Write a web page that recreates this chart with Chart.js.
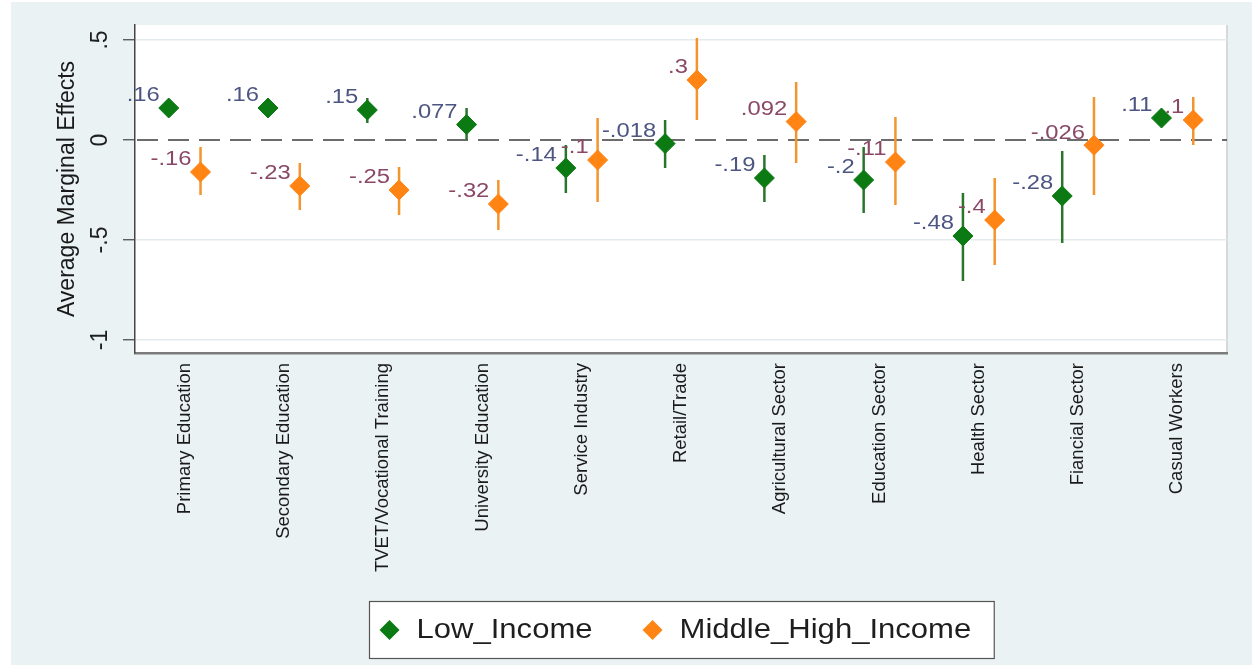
<!DOCTYPE html>
<html>
<head>
<meta charset="utf-8">
<script src="https://cdn.jsdelivr.net/npm/chart.js@4.4.1/dist/chart.umd.min.js"></script>
<style>
  html, body { margin: 0; padding: 0; background: #ffffff; }
  #wrap { width: 1252px; height: 665px; position: relative; }
  canvas { display: block; }
</style>
</head>
<body>
<div id="wrap"><canvas id="c" width="1252" height="665"></canvas></div>
<script>
// Average marginal effects by category, with 95% confidence bounds
const categories = [
  'Primary Education', 'Secondary Education', 'TVET/Vocational Training',
  'University Education', 'Service Industry', 'Retail/Trade',
  'Agricultural Sector', 'Education Sector', 'Health Sector',
  'Fiancial Sector', 'Casual Workers'
];
const lowIncome      = [0.16, 0.16, 0.15, 0.077, -0.14, -0.018, -0.19, -0.2, -0.48, -0.28, 0.11];
const lowIncomeLower = [0.12, 0.12, 0.085, 0.0, -0.265, -0.14, -0.31, -0.365, -0.705, -0.515, 0.08];
const lowIncomeUpper = [0.20, 0.20, 0.21, 0.16, -0.025, 0.10, -0.075, -0.035, -0.265, -0.055, 0.14];
const midHighIncome      = [-0.16, -0.23, -0.25, -0.32, -0.1, 0.3, 0.092, -0.11, -0.4, -0.026, 0.1];
const midHighIncomeLower = [-0.275, -0.35, -0.375, -0.45, -0.31, 0.10, -0.115, -0.325, -0.625, -0.275, -0.025];
const midHighIncomeUpper = [-0.035, -0.115, -0.135, -0.2, 0.11, 0.51, 0.29, 0.115, -0.19, 0.215, 0.215];
const yTickValues = [-1, -0.5, 0, 0.5];
const yTickLabels = ['-1', '-.5', '0', '.5'];
const seriesNames = ['Low_Income', 'Middle_High_Income'];

const FONT = "'Liberation Sans', Arial, Helvetica, sans-serif";
const BG = '#eaf2f3';
const GREEN = '#0b7a12';
const ORANGE = '#ff8414';

// Stata-style number format: drop the leading zero
function fmt(v) {
  return String(v).replace(/^(-?)0\./, '$1.');
}

function series(values, shift) {
  return values.map((v, i) => ({ x: i + shift, y: v }));
}

const decor = {
  id: 'decor',
  beforeDraw(chart) {
    const { ctx, chartArea: a } = chart;
    ctx.save();
    ctx.fillStyle = BG;
    ctx.fillRect(11, 2, chart.width - 11, chart.height - 2);
    ctx.fillStyle = '#ffffff';
    ctx.fillRect(a.left, a.top, a.right - a.left, a.bottom - a.top);
    ctx.strokeStyle = '#d4dadc';
    ctx.lineWidth = 2;
    ctx.beginPath();
    ctx.moveTo(a.right, a.top);
    ctx.lineTo(a.right, a.bottom);
    ctx.stroke();
    ctx.restore();
  },
  beforeDatasetsDraw(chart) {
    const { ctx, chartArea: a, scales: { x, y } } = chart;
    ctx.save();
    // reference line at zero
    const y0 = y.getPixelForValue(0);
    ctx.strokeStyle = '#3c3c3c';
    ctx.lineWidth = 1.5;
    ctx.setLineDash([21, 10]);
    ctx.beginPath();
    ctx.moveTo(a.left + 2, y0);
    ctx.lineTo(a.right, y0);
    ctx.stroke();
    ctx.setLineDash([]);

    chart.data.datasets.forEach(ds => {
      // value labels, upper-left of each marker
      ctx.fillStyle = ds.labelColor;
      ctx.font = '19.5px ' + FONT;
      ctx.textAlign = 'right';
      ctx.textBaseline = 'middle';
      ds.data.forEach(p => {
        const px = x.getPixelForValue(p.x);
        const py = y.getPixelForValue(p.y);
        ctx.save();
        ctx.translate(px - 9, py - 12);
        ctx.scale(1.22, 1);
        ctx.fillText(fmt(p.y), 0, 0);
        ctx.restore();
      });
      // confidence interval spikes
      ctx.strokeStyle = ds.ciColor;
      ctx.lineWidth = 2.5;
      ds.data.forEach((p, i) => {
        const px = x.getPixelForValue(p.x);
        ctx.beginPath();
        ctx.moveTo(px, y.getPixelForValue(ds.lower[i]));
        ctx.lineTo(px, y.getPixelForValue(ds.upper[i]));
        ctx.stroke();
      });
    });
    ctx.restore();
  },
  afterDraw(chart) {
    const { ctx, chartArea: a, scales: { y } } = chart;
    ctx.save();
    // rotated y tick labels
    ctx.fillStyle = '#1e1e1e';
    ctx.font = '23px ' + FONT;
    ctx.textAlign = 'center';
    ctx.textBaseline = 'middle';
    yTickValues.forEach((v, i) => {
      ctx.save();
      ctx.translate(101, y.getPixelForValue(v));
      ctx.rotate(-Math.PI / 2);
      ctx.fillText(yTickLabels[i], 0, 0);
      ctx.restore();
    });

    // legend box
    const sx = 1.15;
    ctx.font = '27px ' + FONT;
    const widths = chart.data.datasets.map(ds => ctx.measureText(ds.label).width * sx);
    const r = 10;
    const boxW = 10 + 2 * r + 17 + widths[0] + 50 + 2 * r + 17 + widths[1] + 23;
    const boxL = Math.round((a.left + a.right) / 2 - boxW / 2) + 0.5;
    const boxT = a.bottom + 248.5;
    const boxH = 57;
    ctx.fillStyle = '#ffffff';
    ctx.fillRect(boxL, boxT, boxW, boxH);
    ctx.strokeStyle = '#555';
    ctx.lineWidth = 1.2;
    ctx.strokeRect(boxL, boxT, boxW, boxH);
    const cy = boxT + boxH / 2;
    let cx = boxL + 10;
    chart.data.datasets.forEach((ds, i) => {
      ctx.fillStyle = ds.backgroundColor;
      ctx.beginPath();
      ctx.moveTo(cx, cy);
      ctx.lineTo(cx + r, cy - r);
      ctx.lineTo(cx + 2 * r, cy);
      ctx.lineTo(cx + r, cy + r);
      ctx.closePath();
      ctx.fill();
      cx += 2 * r + 17;
      ctx.save();
      ctx.translate(cx, cy + 1);
      ctx.scale(sx, 1);
      ctx.fillStyle = '#1e1e1e';
      ctx.textAlign = 'left';
      ctx.textBaseline = 'middle';
      ctx.fillText(ds.label, 0, 0);
      ctx.restore();
      cx += widths[i] + 50;
    });
    ctx.restore();
  }
};

new Chart(document.getElementById('c'), {
  type: 'scatter',
  data: {
    datasets: [
      {
        label: seriesNames[0],
        data: series(lowIncome, -0.16),
        lower: lowIncomeLower,
        upper: lowIncomeUpper,
        pointStyle: 'rectRot',
        pointRadius: 10,
        pointHoverRadius: 10,
        borderWidth: 1,
        backgroundColor: GREEN,
        borderColor: GREEN,
        ciColor: '#2a752c',
        labelColor: '#4d5682'
      },
      {
        label: seriesNames[1],
        data: series(midHighIncome, 0.16),
        lower: midHighIncomeLower,
        upper: midHighIncomeUpper,
        pointStyle: 'rectRot',
        pointRadius: 10,
        pointHoverRadius: 10,
        borderWidth: 1,
        backgroundColor: ORANGE,
        borderColor: ORANGE,
        ciColor: '#f3952e',
        labelColor: '#8a4866'
      }
    ]
  },
  options: {
    responsive: false,
    animation: false,
    events: [],
    layout: { padding: { left: 0, right: 25, top: 25, bottom: 0 } },
    plugins: {
      legend: { display: false },
      tooltip: { enabled: false }
    },
    scales: {
      x: {
        type: 'linear',
        min: -0.5,
        max: 10.5,
        afterBuildTicks: s => { s.ticks = categories.map((c, i) => ({ value: i })); },
        afterFit: s => { s.height = 312; },
        grid: { display: false, drawTicks: false },
        border: { display: true, color: '#7c7c7c', width: 2.5 },
        ticks: {
          autoSkip: false,
          minRotation: 90,
          maxRotation: 90,
          padding: 10,
          color: '#1a1a1a',
          font: { family: FONT, size: 18.5 },
          callback: v => categories[v]
        }
      },
      y: {
        min: -1.065,
        max: 0.575,
        afterBuildTicks: s => { s.ticks = yTickValues.map(v => ({ value: v })); },
        afterFit: s => { s.width = 135; },
        ticks: { display: false },
        grid: {
          color: c => (c.tick && c.tick.value === 0) ? 'rgba(0,0,0,0)' : '#e4ebee',
          lineWidth: 1.5,
          drawTicks: true,
          tickLength: 12,
          tickColor: '#444',
          tickWidth: 1.2
        },
        border: { display: true, color: '#444', width: 1.5 },
        title: {
          display: true,
          text: 'Average Marginal Effects',
          color: '#1a1a1a',
          font: { family: FONT, size: 23 },
          padding: { top: 54, bottom: 0 }
        }
      }
    }
  },
  plugins: [decor]
});
</script>
</body>
</html>
